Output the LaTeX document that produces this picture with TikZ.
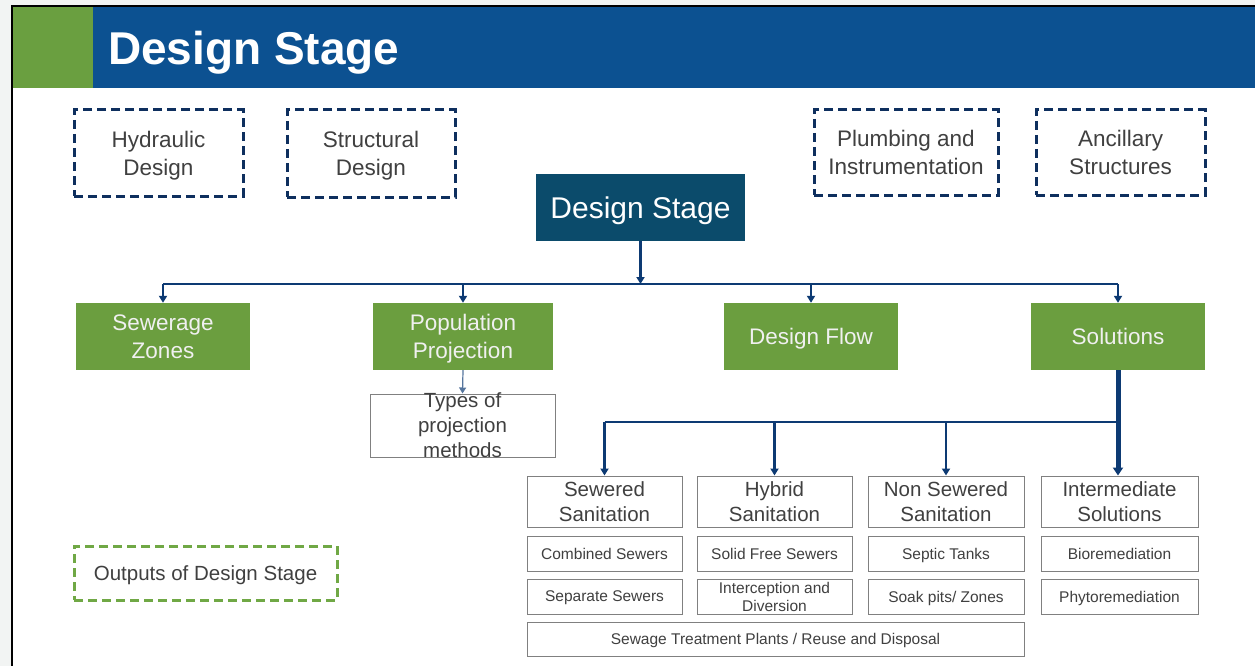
\documentclass[tikz,border=0pt]{standalone}
\usepackage{fontspec}
\setmainfont{Liberation Sans}
\usetikzlibrary{arrows.meta}
\definecolor{bggrey}{HTML}{F2F4F3}
\definecolor{hdrblue}{HTML}{0C5191}
\definecolor{hdrgreen}{HTML}{6A9F40}
\definecolor{boxgreen}{HTML}{6B9E3F}
\definecolor{dsblue}{HTML}{0B4B6B}
\definecolor{navy}{HTML}{0E2F5E}
\definecolor{conn}{HTML}{0D3A73}
\definecolor{txtgrey}{HTML}{404040}
\definecolor{bordgrey}{HTML}{808080}
\definecolor{dgreen}{HTML}{70A845}
\tikzset{
  dashbox/.style={draw=navy, line width=3pt, dash pattern=on 9pt off 5pt, inner sep=0pt, align=center, text=txtgrey, font=\fontsize{22.5}{28}\selectfont, text depth=0pt},
  greenbox/.style={fill=boxgreen, inner sep=0pt, align=center, text=white!94!black, font=\fontsize{22.5}{28}\selectfont, minimum width=174pt, minimum height=67pt, text depth=0pt},
  headbox/.style={draw=bordgrey, line width=1pt, inner sep=0pt, align=center, text=txtgrey, font=\fontsize{20.5}{25}\selectfont, minimum height=51pt, text depth=0pt},
  smallbox/.style={draw=bordgrey, line width=1pt, inner sep=0pt, align=center, text=txtgrey, font=\fontsize{15.5}{18}\selectfont, minimum height=35pt, text depth=0pt},
  connline/.style={draw=conn, line width=2.5pt},
  arr/.style={connline, -{Triangle[width=8pt,length=7pt]}},
}
\begin{document}
\begin{tikzpicture}[x=1pt,y=-1pt]
\useasboundingbox (0,0) rectangle (1255,666);
\fill[bggrey] (0,0) rectangle (1255,666);
\fill[white] (12,6) rectangle (1255,666);
\draw[black, line width=1.5pt] (12,666) -- (12,6) -- (1255,6);
% header
\fill[hdrgreen] (13,7) rectangle (93,88);
\fill[hdrblue] (93,7) rectangle (1255,88);
\node[anchor=west, text=white, font=\fontsize{46}{50}\selectfont\bfseries, inner sep=0pt, text depth=0pt] (title) at (108,48) {Design Stage};
% dashed boxes
\node[dashbox, minimum width=169pt, minimum height=86pt] (hyd) at (158.5,153) {Hydraulic\\Design};
\node[dashbox, minimum width=168pt, minimum height=87pt] (str) at (371,153.5) {Structural\\Design};
\node[dashbox, minimum width=184pt, minimum height=85pt] (plu) at (906,152.5) {Plumbing and\\Instrumentation};
\node[dashbox, minimum width=169pt, minimum height=85pt] (anc) at (1120.5,152.5) {Ancillary\\Structures};
% central
\node[fill=dsblue, text=white, inner sep=0pt, minimum width=209pt, minimum height=67pt, font=\fontsize{30}{34}\selectfont, text depth=0pt] (ds) at (640.5,207.5) {Design Stage};
% green row
\node[greenbox] (sz) at (163,336.5) {Sewerage\\Zones};
\node[greenbox, minimum width=180pt] (pp) at (463,336.5) {Population\\Projection};
\node[greenbox] (df) at (811,336.5) {Design Flow};
\node[greenbox] (sol) at (1118,336.5) {Solutions};
% types
\node[draw=bordgrey, line width=1pt, minimum width=185pt, minimum height=63pt, inner sep=0pt] (types) at (462.5,425.5) {};
\node[align=center, text=txtgrey, font=\fontsize{20.5}{25}\selectfont, inner sep=0pt, text depth=0pt] (typestxt) at (types.center) {Types of\\projection\\methods};
% sanitation
\node[headbox, minimum width=155pt] (sew) at (604.5,501.5) {Sewered\\Sanitation};
\node[headbox, minimum width=155pt] (hyb) at (774.5,501.5) {Hybrid\\Sanitation};
\node[headbox, minimum width=156pt] (non) at (946,501.5) {Non Sewered\\Sanitation};
\node[headbox, minimum width=157pt] (int) at (1119.5,501.5) {Intermediate\\Solutions};
\node[smallbox, minimum width=155pt] (comb) at (604.5,553.5) {Combined Sewers};
\node[smallbox, minimum width=155pt] (sfs) at (774.5,553.5) {Solid Free Sewers};
\node[smallbox, minimum width=156pt] (sept) at (946,553.5) {Septic Tanks};
\node[smallbox, minimum width=157pt] (bio) at (1119.5,553.5) {Bioremediation};
\node[smallbox, minimum width=155pt] (sep) at (604.5,596.5) {Separate Sewers};
\node[smallbox, minimum width=155pt] (icd) at (774.5,596.5) {Interception and\\Diversion};
\node[smallbox, minimum width=156pt] (soak) at (946,596.5) {Soak pits/ Zones};
\node[smallbox, minimum width=157pt] (phy) at (1119.5,596.5) {Phytoremediation};
\node[smallbox, minimum width=497pt, minimum height=34pt] (stp) at (775.5,639) {Sewage Treatment Plants / Reuse and Disposal};
% outputs
\node[draw=dgreen, line width=3pt, dash pattern=on 9pt off 5pt, inner sep=0pt, minimum width=263pt, minimum height=54pt, text=txtgrey, font=\fontsize{20.5}{24}\selectfont, text depth=0pt] (out) at (205.5,573) {Outputs of Design Stage};
% connectors top
\coordinate (b1) at (640.5,284);
\draw[arr] (ds.south) -- (b1);
\draw[connline] (sz.north |- b1) -- (sol.north |- b1);
\draw[arr] (sz.north |- b1) -- (sz.north);
\draw[arr] (pp.north |- b1) -- (pp.north);
\draw[arr] (df.north |- b1) -- (df.north);
\draw[arr] (sol.north |- b1) -- (sol.north);
% types
\draw[draw=conn!70!white, line width=1.2pt, -{Triangle[width=7pt,length=6pt]}] (pp.south) -- (types.north);
% lower connectors
\coordinate (b2) at (1118,422);
\draw[connline] (sew.north |- b2) -- (b2);
\draw[arr] (sew.north |- b2) -- (sew.north);
\draw[arr] (hyb.north |- b2) -- (hyb.north);
\draw[arr] (non.north |- b2) -- (non.north);
\draw[draw=conn, line width=5pt, -{Triangle[width=10pt,length=8pt]}] (sol.south) -- (sol.south |- int.north);
\end{tikzpicture}
\end{document}
